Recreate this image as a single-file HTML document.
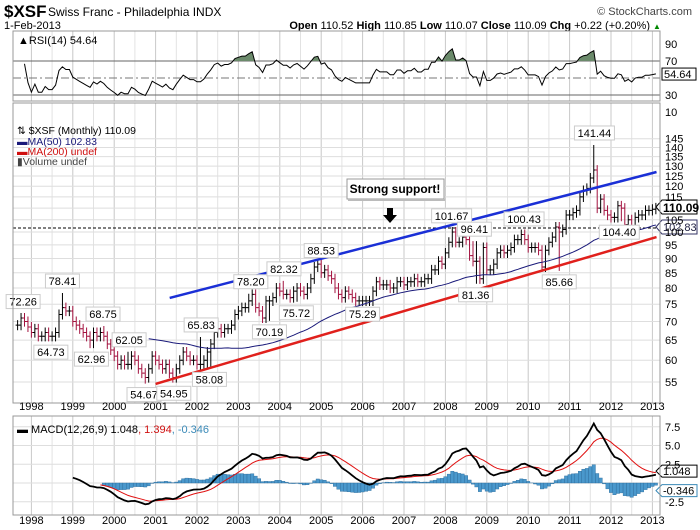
<!DOCTYPE html>
<html><head><meta charset="utf-8"><style>
body{margin:0;background:#fff;}
svg{display:block;font-family:"Liberation Sans",Arial,sans-serif;}
</style></head><body>
<svg id="c" width="700" height="530" viewBox="0 0 700 530">
<text x="4" y="17" font-size="17" font-weight="bold">$XSF</text>
<text x="48" y="16" font-size="12">Swiss Franc - Philadelphia INDX</text>
<text x="692" y="15" font-size="11" fill="#444" text-anchor="end">© StockCharts.com</text>
<text x="4" y="29" font-size="11">1-Feb-2013</text>
<text x="650" y="29" font-size="11" text-anchor="end"><tspan font-weight="bold">Open</tspan> 110.52 <tspan font-weight="bold">High</tspan> 110.85 <tspan font-weight="bold">Low</tspan> 110.07 <tspan font-weight="bold">Close</tspan> 110.09 <tspan font-weight="bold">Chg</tspan> +0.22 (+0.20%)</text>
<text x="653" y="29" font-size="8" fill="#080">▲</text>
<g id="grid"></g>
<g id="rsi"></g>
<g id="price"></g>
<g id="macd"></g>
<g id="axes"></g>
</svg>
<script>
// ---- data (monthly closes from Sep 1997 to Feb 2013) ----
const startT = 1997 + 8/12;
const closes = [
69,71,70,68.5,
67,68,66,66,67,66,66,67,72,74,73,73,
70,69,68,67,66,65,67,66,67,66,64,62.5,
61,59,60,59,59,61,60,58,57,56,58,61,
60,59,58,59,57,56,58,60,62,61,60,60,
59,59,60,62,64,67,68,67,68,68,69,72,
73,74,74,76,78,74,73,71,76,76,77,80,
79,78,78,77,79,80,79,78,80,83,87,88,
85,86,84,83,80,78,77,79,78,77,76,76,
76,76,76,79,82,81,81,81,80,80,82,82,
81,82,82,83,82,82,83,83,86,86,89,88,
92,96,100,96,96,98,97,91,89,89,83,94,
86,86,88,92,93,92,93,94,97,97,99,97,
94,94,94,93,87,93,96,98,102,100,101,107,
107,108,109,115,118,119,124,128,110,114,109,107,
106,106,111,110,103,105,102,106,107,107,109,109,
109.5,110.09];
const annLabels = ["72.26","64.73","78.41","62.96","68.75","62.05","54.67","54.95","65.83","58.08","78.20","70.19","82.32","75.72","88.53","75.29","101.67","96.41","81.36","100.43","85.66","141.44","104.40"];
const annValues = [72.26,64.73,78.41,62.96,68.75,62.05,54.67,54.95,65.83,58.08,78.20,70.19,82.32,75.72,88.53,75.29,101.67,96.41,81.36,100.43,85.66,141.44,104.40];
const annTimes = [1997.8,1998.47,1998.75,1999.45,1999.73,2000.36,2000.72,2001.44,2002.1,2002.3,2003.3,2003.75,2004.1,2004.4,2005.0,2006.0,2008.15,2008.7,2008.73,2009.9,2010.75,2011.6,2012.2];
const annAbove = [1,0,1,0,1,1,0,0,1,0,1,0,1,0,1,0,1,1,0,1,0,1,0];
const years = [1998,1999,2000,2001,2002,2003,2004,2005,2006,2007,2008,2009,2010,2011,2012,2013];
const priceTicks = [55,60,65,70,75,80,85,90,95,100,105,115,120,125,130,135,140,145];
const rsiTicks = [10,30,70,90];
const macdTicks = [-2.5,2.5,5.0,7.5];
const blueLineT = [2001.34,2013.1], blueLineV = [76.9,127];
const redLineT = [2001.0,2013.1], redLineV = [54.6,98];

// ---- scales ----
const L=13,R=660;
const X=t=>31.4+(t-1998)*41.4;
const tOf=i=>startT+i/12;
const PY=v=>232-251*Math.log(v/100);
const RY=v=>61+(70-v)*0.85;
const MY=v=>483-7.5*v;
const NS="http://www.w3.org/2000/svg";
function mk(tag,attrs,parent){const e=document.createElementNS(NS,tag);for(const k in attrs)e.setAttribute(k,attrs[k]);parent.appendChild(e);return e;}
const G=id=>document.getElementById(id);
const grid=G('grid'),rsiG=G('rsi'),priceG=G('price'),macdG=G('macd'),axes=G('axes');
const panels=[[31,101],[103,403],[416,515]];
// grid
panels.forEach(([a,b])=>{
  for(let y=1997.5;y<=2013.5;y+=0.5){const x=X(y);if(x<L||x>R)continue;
    const l=mk('line',{x1:x,x2:x,y1:a,y2:b,stroke:y%1===0?'#c8c8c8':'#e2e2e2','stroke-width':1},grid);
    }
});
priceTicks.concat([110]).forEach(v=>{const l=mk('line',{x1:L,x2:R,y1:PY(v),y2:PY(v),stroke:'#dedede'},grid);
  });
macdTicks.concat([0]).forEach(v=>{const l=mk('line',{x1:L,x2:R,y1:MY(v),y2:MY(v),stroke:'#dedede'},grid);
  });
[50].forEach(v=>{const l=mk('line',{x1:L,x2:R,y1:RY(v),y2:RY(v),stroke:'#777','stroke-dasharray':'8,3,2,3'},grid);
  });
[30,70].forEach(v=>{const l=mk('line',{x1:L,x2:R,y1:RY(v),y2:RY(v),stroke:'#666'},grid);
  });
panels.forEach(([a,b])=>{const r=mk('rect',{x:L,y:a,width:R-L,height:b-a,fill:'none',stroke:'#999'},axes);
  });
// year labels
[410,524].forEach(yy=>years.forEach(y=>{const t=mk('text',{x:X(y),y:yy,'font-size':11,'text-anchor':'middle'},axes);t.textContent=y;
  }));
// price ticks
priceTicks.forEach(v=>{const t=mk('text',{x:665,y:PY(v)+4,'font-size':11},axes);t.textContent=v;
  });
rsiTicks.forEach(v=>{const t=mk('text',{x:665,y:RY(v)+4,'font-size':11},axes);t.textContent=v;
  });
macdTicks.forEach(v=>{const t=mk('text',{x:665,y:MY(v)+4,'font-size':11},axes);t.textContent=(v>0?'':'')+v.toFixed(1);
  });

// ---- RSI ----
let ag=0,al=0;const rsi=[];
for(let i=1;i<closes.length;i++){const d=closes[i]-closes[i-1];const g=Math.max(d,0),lo=Math.max(-d,0);
  if(i<=14){ag+=g/14;al+=lo/14;}else{ag=(ag*13+g)/14;al=(al*13+lo)/14;}
  rsi[i]=al===0?100:100-100/(1+ag/al);}
let rp='';for(let i=2;i<closes.length;i++){rp+=(rp?'L':'M')+X(tOf(i)).toFixed(1)+','+RY(Math.max(22,Math.min(104,rsi[i]))).toFixed(1);}
mk('clipPath',{id:'ob'},rsiG).appendChild(document.createElementNS(NS,'rect')).setAttribute('height',RY(70)-31);
document.querySelector('#ob rect').setAttribute('x',L);document.querySelector('#ob rect').setAttribute('y',31);document.querySelector('#ob rect').setAttribute('width',R-L);
const rf=mk('path',{d:rp+`L${X(tOf(closes.length-1))},${RY(70)}L${X(tOf(2))},${RY(70)}Z`,fill:'#6b8a6b','clip-path':'url(#ob)'},rsiG);

const rl=mk('path',{d:rp,fill:'none',stroke:'#000','stroke-width':1},rsiG);

const rt=mk('text',{x:18,y:44,'font-size':11},rsiG);rt.textContent='▲RSI(14) 54.64';

const rb=mk('rect',{x:662,y:RY(54.64)-6,width:34,height:12,fill:'#fff',stroke:'#000'},rsiG);

const rv=mk('text',{x:664,y:RY(54.64)+4,'font-size':11},rsiG);rv.textContent='54.64';


// ---- price bars ----
const dash=mk('line',{x1:L,x2:R,y1:228,y2:228,stroke:'#000','stroke-dasharray':'3,2'},priceG);

for(let i=0;i<closes.length;i++){
  const c=closes[i],o=i?closes[i-1]:c;const x=X(tOf(i));
  let hi=Math.max(o,c)*1.02,lo=Math.min(o,c)*0.98;
  annTimes.forEach((t,k)=>{if(Math.abs(t-tOf(i))<0.05){if(annAbove[k])hi=Math.max(hi,annValues[k]);else lo=Math.min(lo,annValues[k]);}});
  const col=c>=o?'#000':'#a3123f';
  const b=mk('path',{d:`M${x},${PY(hi)}V${PY(lo)}M${x-2},${PY(o)}H${x}M${x},${PY(c)}H${x+2}`,stroke:col,'stroke-width':1,fill:'none'},priceG);
  
}
// MA50
let mp='';for(let i=38;i<closes.length;i++){const s=closes.slice(Math.max(0,i-49),i+1);const m=s.reduce((a,b)=>a+b,0)/s.length;
  mp+=(mp?'L':'M')+X(tOf(i)).toFixed(1)+','+PY(m).toFixed(1);}
const ma=mk('path',{d:mp,fill:'none',stroke:'#1a1a7a','stroke-width':1},priceG);

// trend lines
const bl=mk('line',{x1:X(blueLineT[0]),y1:PY(blueLineV[0]),x2:X(blueLineT[1]),y2:PY(blueLineV[1]),stroke:'#1a2fd6','stroke-width':2.5},priceG);

const rl2=mk('line',{x1:X(redLineT[0]),y1:PY(redLineV[0]),x2:X(redLineT[1]),y2:PY(redLineV[1]),stroke:'#e0201c','stroke-width':2.5},priceG);

// annotations
annLabels.forEach((s,k)=>{const x=X(annTimes[k]);const y=PY(annValues[k]);const w=s.length*6+4;
  const by=annAbove[k]?y-19:y+4;
  const g=mk('g',{},priceG);
  
  mk('rect',{x:x-w/2,y:by,width:w,height:14,fill:'#fff',stroke:'#ccc'},g);
  const t=mk('text',{x:x,y:by+11,'font-size':11,'text-anchor':'middle'},g);t.textContent=s;});
// strong support box
const sb=mk('g',{},priceG);
mk('rect',{x:347,y:179,width:97,height:20,fill:'#fff',stroke:'#999'},sb);
mk('line',{x1:348,y1:200,x2:445,y2:200,stroke:'#bbb','stroke-width':2},sb);
const st=mk('text',{x:395,y:193,'font-size':12,'font-weight':'bold','text-anchor':'middle'},sb);st.textContent='Strong support!';
const ar=mk('path',{d:'M387,208H393V215H397L390,223L383,215H387Z',fill:'#000'},priceG);

// legend
const leg=[['⇅ $XSF (Monthly) 110.09','#000',134],['▬MA(50) 102.83','#1a1a7a',145],['▬MA(200) undef','#d01010',155],['▮Volume undef','#444',165]];
leg.forEach(([s,c,y])=>{const t=mk('text',{x:17,y:y,'font-size':10.5,fill:c},priceG);t.textContent=s;
  });
const pb=mk('path',{d:`M656,${207}L662,200H697V214H662Z`,fill:'#fff',stroke:'#000'},priceG);

const pt=mk('text',{x:663,y:212,'font-size':12,'font-weight':'bold'},priceG);pt.textContent='110.09';

const mb=mk('path',{d:`M656,${227}L662,220H697V234H662Z`,fill:'#fff',stroke:'#336'},priceG);

const mt=mk('text',{x:663,y:231,'font-size':11,fill:'#224'},priceG);mt.textContent='102.83';


// ---- MACD ----
const ema=(arr,n)=>{const k=2/(n+1);const o=[];arr.forEach((v,i)=>o.push(i?v*k+o[i-1]*(1-k):v));return o;};
const e12=ema(closes,12),e26=ema(closes,26);const macd=closes.map((_,i)=>e12[i]-e26[i]);const sig=ema(macd,9);
const m0=16;
for(let i=m0+9;i<closes.length;i++){const h=macd[i]-sig[i];const x=X(tOf(i));
  const r=mk('rect',{x:x-1.7,y:Math.min(MY(0),MY(h)),width:3.4,height:Math.abs(MY(h)-MY(0)),fill:'#4a98cc',stroke:'#2a6a9a','stroke-width':0.4},macdG);
  }
let sp='',lp='';for(let i=m0;i<closes.length;i++){const x=X(tOf(i)).toFixed(1);
  lp+=(lp?'L':'M')+x+','+MY(macd[i]).toFixed(1);if(i>=m0+8)sp+=(sp?'L':'M')+x+','+MY(sig[i]).toFixed(1);}
const sl=mk('path',{d:sp,fill:'none',stroke:'#e01010','stroke-width':1},macdG);

const ml=mk('path',{d:lp,fill:'none',stroke:'#000','stroke-width':1.8},macdG);

const mlg=mk('text',{x:17,y:433,'font-size':11},macdG);
mlg.innerHTML='<tspan>▬ MACD(12,26,9) 1.048</tspan><tspan fill="#d01010">, 1.394</tspan><tspan fill="#3a8ab8">, -0.346</tspan>';

[[1.048,'#000','1.048',-4],[-0.346,'#3a8ab8','-0.346',5]].forEach(([v,c,s,dy])=>{
  const y=MY(v)+dy;const p=mk('path',{d:`M656,${y}L662,${y-6}H697V${y+6}H662Z`,fill:'#fff',stroke:c},macdG);
  
  const t=mk('text',{x:663,y:y+4,'font-size':11},macdG);t.textContent=s;
  });
</script>
</body></html>
